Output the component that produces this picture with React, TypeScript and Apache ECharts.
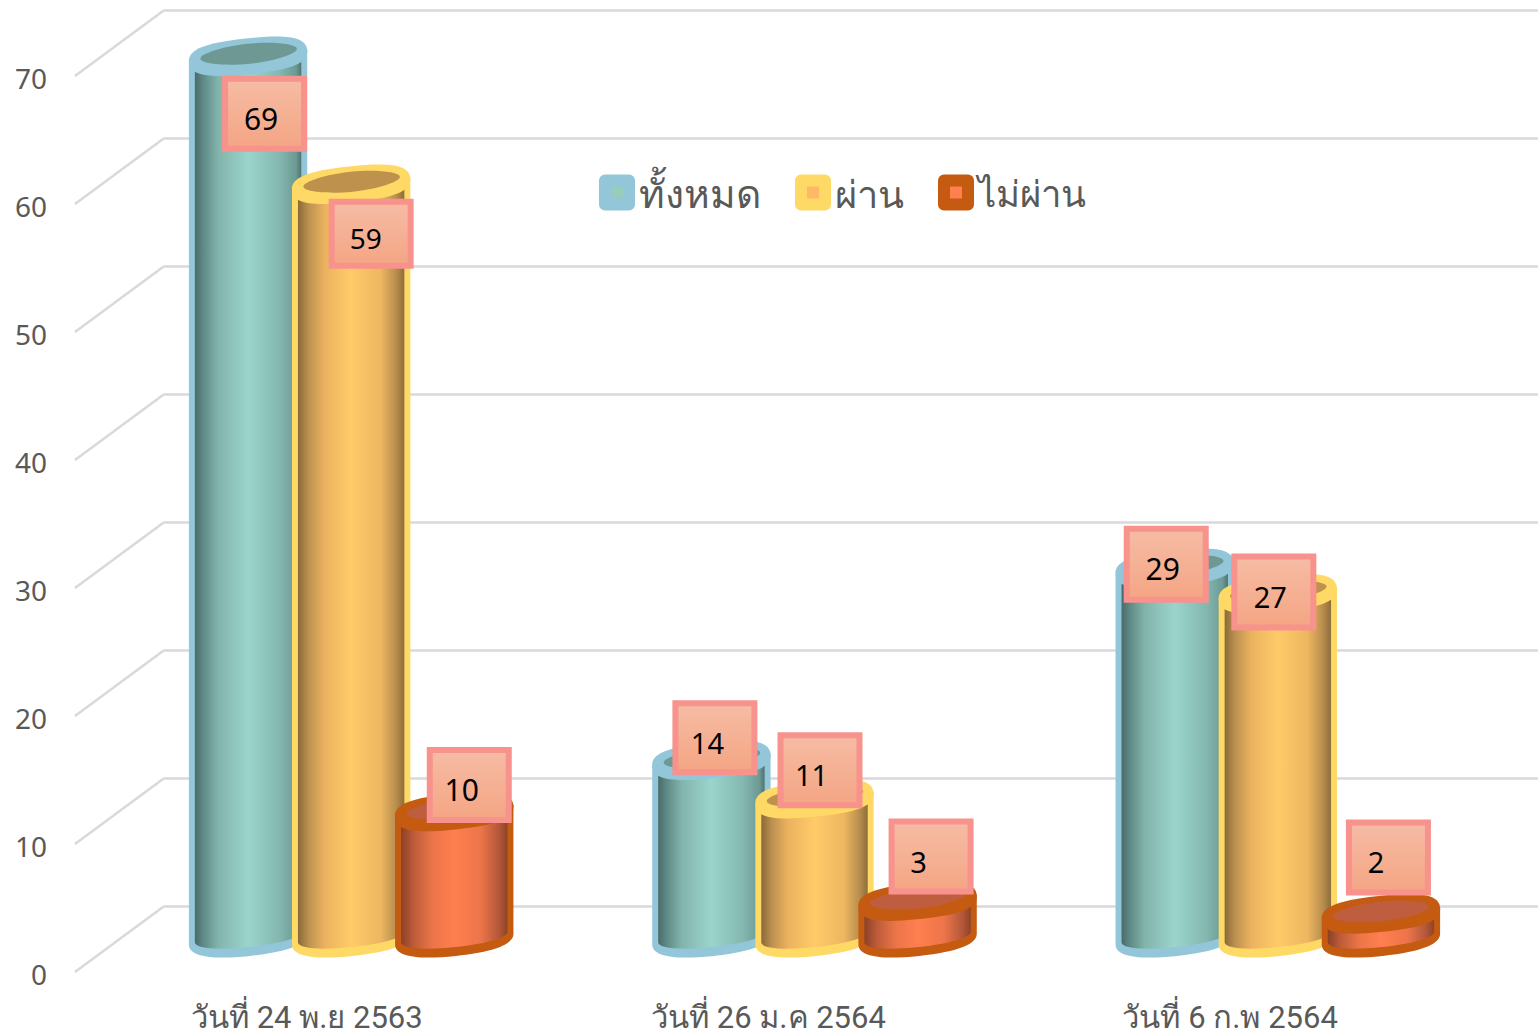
import React, { useEffect, useRef } from "react";
import * as echarts from "echarts";

const categories = ["วันที่ 24 พ.ย 2563", "วันที่ 26 ม.ค 2564", "วันที่ 6 ก.พ 2564"];
const seriesNames = ["ทั้งหมด", "ผ่าน", "ไม่ผ่าน"];
const totalValues = [69, 14, 29];
const passValues = [59, 11, 27];
const failValues = [10, 3, 2];
const yTicks = [0, 10, 20, 30, 40, 50, 60, 70];

// label placement relative to each cylinder's top centre (dx, dy of box centre), by series then category
const labelOffsets = [
  [[16, 58], [3, -22], [-9, -3.5]],
  [[19.5, 50], [5, -28], [-4.5, -1.5]],
  [[14.5, -26], [13, -44], [7, -56]],
];
const labelBoxHeights = [
  [76, 75, 77],
  [70, 76, 77],
  [76, 76, 76],
];
const labelFontSizes = [
  [30, 29, 30],
  [28, 29, 29],
  [30, 29, 29],
];
const labelTextDx = [
  [-3.5, -7.5, -3.5],
  [-5.5, -8.5, -3.5],
  [-7.5, -12.5, -12.5],
];
const legendFontSizes = [39, 38, 36.5];

const FONT = "'Noto Sans', sans-serif";
const GRID_COLOR = "#D9D9D9";
const TEXT_COLOR = "#595959";
const styles = [
  {
    border: "#92C6D8",
    hole: "#6D9893",
    center: "#98CCBE",
    stops: [[0, "#4A6B6B"], [0.08, "#5F8A86"], [0.22, "#82B4AC"], [0.5, "#9AD5CB"], [0.8, "#83B7AF"], [0.95, "#6C9A94"], [1, "#50736F"]],
  },
  {
    border: "#FFD966",
    hole: "#BE914C",
    center: "#FFB966",
    stops: [[0, "#8A6A38"], [0.1, "#BC9150"], [0.25, "#EBB25F"], [0.5, "#FFCB69"], [0.78, "#EDB660"], [0.92, "#B98E4E"], [1, "#8E6E3A"]],
  },
  {
    border: "#C55A11",
    hole: "#BF5E3F",
    center: "#FF7F50",
    stops: [[0, "#8A4126"], [0.12, "#BD5C3A"], [0.3, "#EC7549"], [0.5, "#FF7F50"], [0.75, "#EC7549"], [0.92, "#B4573A"], [1, "#8E4327"]],
  },
];

const TILT = (-6 * Math.PI) / 180;
const OUTER_RX = 59.5;
const OUTER_RY = 18;
const BORDER = 6;
const BAR_STEP_RATIO = 0.2225;
const KAPPA = 0.72;
const FRONT_LIFT = 1.5;

// point of the tilted oval, in local (u, v) coordinates
function pt(cx: number, cy: number, u: number, v: number) {
  const x = cx + u * Math.cos(TILT) - v * Math.sin(TILT);
  const y = cy + u * Math.sin(TILT) + v * Math.cos(TILT);
  return `${x.toFixed(2)} ${y.toFixed(2)}`;
}

// lower half: left end -> bottom -> right end
function lowerHalf(cx: number, cy: number, rx: number, ry: number, k = KAPPA) {
  return (
    `C${pt(cx, cy, -rx, k * ry)} ${pt(cx, cy, -k * rx, ry)} ${pt(cx, cy, 0, ry)}` +
    `C${pt(cx, cy, k * rx, ry)} ${pt(cx, cy, rx, k * ry)} ${pt(cx, cy, rx, 0)}`
  );
}
// upper half: right end -> top -> left end
function upperHalf(cx: number, cy: number, rx: number, ry: number, k = KAPPA) {
  return (
    `C${pt(cx, cy, rx, -k * ry)} ${pt(cx, cy, k * rx, -ry)} ${pt(cx, cy, 0, -ry)}` +
    `C${pt(cx, cy, -k * rx, -ry)} ${pt(cx, cy, -rx, -k * ry)} ${pt(cx, cy, -rx, 0)}`
  );
}
function oval(cx: number, cy: number, rx: number, ry: number, k = KAPPA) {
  return `M${pt(cx, cy, -rx, 0)}${lowerHalf(cx, cy, rx, ry, k)}${upperHalf(cx, cy, rx, ry, k)}Z`;
}

function makeCylinder(si: number) {
  const st = styles[si];
  const gradient = new echarts.graphic.LinearGradient(
    0, 0, 1, 0,
    st.stops.map(([offset, color]) => ({ offset: offset as number, color: color as string })),
  );
  return (params: any, api: any) => {
    const ci = api.value(0);
    const v = api.value(1);
    const band = api.size([1, 0])[0];
    const [c0x, top] = api.coord([ci, v]);
    const base = api.coord([ci, 0])[1];
    const cx = c0x + (si - 1) * band * BAR_STEP_RATIO - 0.5;
    const irx = OUTER_RX - BORDER;
    const outer =
      `M${pt(cx, top, -OUTER_RX, 0)}L${pt(cx, base, -OUTER_RX, 0)}` +
      lowerHalf(cx, base, OUTER_RX, 17, 0.66) +
      `L${pt(cx, top, OUTER_RX, 0)}Z`;
    const inner =
      `M${pt(cx, top, -irx, 0)}L${pt(cx, base - 2, -irx, 0)}` +
      lowerHalf(cx, base - 2, irx, 10, 0.6) +
      `L${pt(cx, top, irx, 0)}Z`;
    const [ldx, ldy] = labelOffsets[si][ci];
    const bh = labelBoxHeights[si][ci];
    const bw = 85;
    const bx = cx + 0.5 + ldx;
    const by = top + ldy;
    return {
      type: "group",
      children: [
        { type: "path", shape: { pathData: outer }, style: { fill: st.border } },
        { type: "path", shape: { pathData: inner }, style: { fill: gradient } },
        { type: "path", shape: { pathData: oval(cx, top + 0.5, OUTER_RX, OUTER_RY) }, style: { fill: st.border } },
        { type: "path", shape: { pathData: oval(cx + 0.5, top - 2, 48.5, 10, 0.5) }, style: { fill: st.hole } },
        {
          type: "rect",
          z2: 10,
          shape: { x: bx - bw / 2 + 3, y: by - bh / 2 + 3, width: bw - 6, height: bh - 6 },
          style: {
            stroke: "#F8928C",
            lineWidth: 6,
            fill: new echarts.graphic.LinearGradient(0, 0, 0, 1, [
              { offset: 0, color: "#F6BCA5" },
              { offset: 1, color: "#F4A583" },
            ]),
          },
        },
        {
          type: "text",
          z2: 11,
          style: {
            text: String(v),
            x: bx + labelTextDx[si][ci],
            y: by + 4.5,
            fill: "#000000",
            fontSize: labelFontSizes[si][ci],
            fontFamily: FONT,
            align: "center",
            verticalAlign: "middle",
          },
        },
      ],
    };
  };
}

function renderDiagonal(params: any, api: any) {
  const left = params.coordSys.x;
  const y = api.coord([0, api.value(0)])[1] - FRONT_LIFT;
  return {
    type: "line",
    shape: { x1: left - 1, y1: y, x2: left + 87, y2: y - 65 },
    style: { stroke: GRID_COLOR, lineWidth: 2.5 },
  };
}

function buildOption() {
  const hiddenX = { type: "category", data: categories, axisLine: { show: false }, axisTick: { show: false }, axisLabel: { show: false }, splitLine: { show: false } };
  const hiddenY = { type: "value", min: 0, max: 70, interval: 10, axisLine: { show: false }, axisTick: { show: false }, axisLabel: { show: false }, splitLine: { show: false } };
  const valueLists = [totalValues, passValues, failValues];
  return {
    animation: false,
    backgroundColor: "#FFFFFF",
    textStyle: { fontFamily: FONT },
    grid: [
      { left: 163, right: 0, top: 10.6, height: 896 },
      { left: 76, width: 1385, top: 76 + FRONT_LIFT, height: 896 },
      { left: 120, width: 1390, top: 43, height: 896 },
    ],
    xAxis: [
      { ...hiddenX, gridIndex: 0 },
      {
        ...hiddenX,
        gridIndex: 1,
        axisLabel: { show: true, color: TEXT_COLOR, fontSize: 31, lineHeight: 31, fontFamily: "Roboto, 'Noto Sans', sans-serif", margin: 28, interval: 0 },
      },
      { ...hiddenX, gridIndex: 2 },
    ],
    yAxis: [
      { ...hiddenY, gridIndex: 0, splitLine: { show: true, lineStyle: { color: GRID_COLOR, width: 2.5 } } },
      { ...hiddenY, gridIndex: 1, axisLabel: { show: true, color: TEXT_COLOR, fontSize: 28, fontFamily: FONT, margin: 29 } },
      { ...hiddenY, gridIndex: 2 },
    ],
    legend: {
      left: 594,
      top: 168,
      icon: "rect",
      itemWidth: 24,
      itemHeight: 24,
      itemGap: 34,
      selectedMode: false,
      textStyle: { color: TEXT_COLOR, fontSize: 38, fontFamily: FONT, padding: [4, 0, 0, 5] },
      data: seriesNames.map((name, i) => ({
        name,
        itemStyle: { color: styles[i].center, borderColor: styles[i].border, borderWidth: 12, borderJoin: "round" },
        textStyle: { fontSize: legendFontSizes[i] },
      })),
    },
    series: [
      {
        type: "custom",
        name: "gridDiagonals",
        xAxisIndex: 1,
        yAxisIndex: 1,
        silent: true,
        renderItem: renderDiagonal,
        encode: { y: 0 },
        data: yTicks.map((t) => [t]),
      },
      ...seriesNames.map((name, si) => ({
        type: "custom",
        name,
        xAxisIndex: 2,
        yAxisIndex: 2,
        clip: false,
        renderItem: makeCylinder(si),
        encode: { x: 0, y: 1 },
        itemStyle: { color: styles[si].border },
        data: valueLists[si].map((v, ci) => [ci, v]),
      })),
    ],
  };
}

export default function App() {
  const ref = useRef<HTMLDivElement>(null);
  useEffect(() => {
    document.body.style.margin = "0";
    const chart = echarts.init(ref.current!, undefined, { renderer: "svg" });
    chart.setOption(buildOption() as any);
    return () => chart.dispose();
  }, []);
  return <div ref={ref} style={{ position: "fixed", left: 0, top: 0, width: 1538, height: 1035 }} />;
}
